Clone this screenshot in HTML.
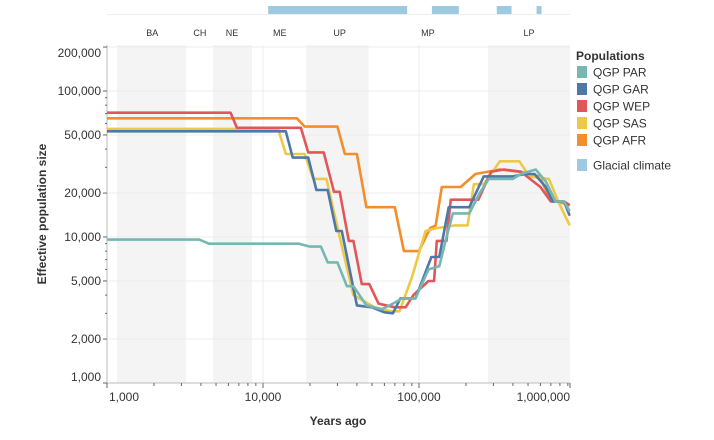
<!DOCTYPE html>
<html><head><meta charset="utf-8">
<style>
body{margin:0;background:#fff;}
svg{display:block;font-family:"Liberation Sans",sans-serif;}
</style></head>
<body>
<svg id="chart" width="714" height="440" viewBox="0 0 714 440" xmlns="http://www.w3.org/2000/svg">
<g id="bands"></g><g id="grid"></g><g id="glacial"></g><g id="periods"></g><g id="axes"></g><g id="lines"></g><g id="legend"></g>
</svg>
<script>
const periodNames=["BA","CH","NE","ME","UP","MP","LP"];
const periodLabelYears=[1950,3940,6330,12800,31000,114000,507000];
const greyBandStart=[1160,4780,18900,277000];
const greyBandEnd=[3210,8500,47500,1000000];
const glacialStart=[10800,121000,315000,567000];
const glacialEnd=[84000,180000,392000,610000];
const yTicks=[1000,2000,5000,10000,20000,50000,100000,200000];
const yTickLabels=["1,000","2,000","5,000","10,000","20,000","50,000","100,000","200,000"];
const xTicks=[1000,10000,100000,1000000];
const xTickLabels=["1,000","10,000","100,000","1,000,000"];
const seriesNames=["QGP PAR","QGP GAR","QGP WEP","QGP SAS","QGP AFR"];
const seriesColors=["#76b7b2","#4e79a7","#e15759","#edc948","#f28e2b"];
const parYears=[1000,3900,4500,17000,20000,23500,26000,30000,34500,38000,46000,58000,68000,78000,95000,115000,135000,150000,165000,210000,245000,280000,400000,450000,560000,650000,750000,850000,925000];
const parValues=[9600,9600,9000,9000,8600,8600,6700,6700,4600,4600,3400,3200,3500,3800,3800,6000,6300,10000,14500,14500,20000,25000,25000,27000,29000,24000,17500,17500,15000];
const garYears=[1000,14000,15500,19500,22000,26000,29500,32000,40000,50000,60000,68000,76000,95000,120000,135000,155000,210000,260000,400000,480000,550000,650000,720000,850000,925000];
const garValues=[53000,53000,35000,35000,21000,21000,11000,11000,3400,3300,3050,3000,3800,3800,7300,7300,16000,16000,26000,26000,27000,27000,22000,17500,17500,14000];
const wepYears=[1000,6200,6800,17500,19500,24500,28500,31000,35500,38000,43000,48000,55000,70000,82000,92000,115000,125000,130000,150000,160000,240000,290000,350000,450000,600000,700000,850000,925000];
const wepValues=[71000,71000,56000,56000,38000,38000,20400,20400,9400,9400,4760,4760,3500,3300,3300,4000,5000,5000,9400,9400,18000,18000,28000,29000,28000,22000,17500,17500,16500];
const sasYears=[1000,12500,14000,18500,21000,25500,31000,38000,52000,66000,75000,90000,110000,130000,170000,205000,225000,260000,330000,440000,510000,680000,780000,925000];
const sasValues=[55000,55000,37000,37000,25000,25000,10000,4000,3300,3100,3100,5300,11000,11500,12000,12000,23000,23000,33000,33000,26000,25000,17500,12000];
const afrYears=[1000,16500,18500,30000,33500,40000,46000,70000,80000,100000,118000,128000,140000,185000,230000,330000,440000,590000,700000,850000,925000];
const afrValues=[65000,65000,57000,57000,37000,37000,16000,16000,8000,8000,11500,12000,22000,22000,27000,29000,28000,26000,18000,17000,16500];

const NS="http://www.w3.org/2000/svg";
const L=107,R=570,T=45,B=383;
function xs(v){return 107+156*(Math.log10(v)-3);}
function ys(v){return 383-146*(Math.log10(v)-3);}
function mk(tag,attrs,parent,text){const e=document.createElementNS(NS,tag);for(const k in attrs)e.setAttribute(k,attrs[k]);if(text!==undefined)e.textContent=text;document.getElementById(parent).appendChild(e);return e;}

greyBandStart.forEach((s,i)=>{const x1=Math.max(L,xs(s)),x2=Math.min(R,xs(greyBandEnd[i]));
const e=mk('rect',{x:x1,y:T,width:x2-x1,height:B-T,fill:'#f4f4f5'},'bands');

});
yTicks.forEach(v=>{const e=mk('line',{x1:L,x2:R,y1:ys(v),y2:ys(v),stroke:'#ececec','stroke-width':1},'grid');

});
xTicks.forEach(v=>{if(xs(v)>L+1&&xs(v)<R){const e=mk('line',{x1:xs(v),x2:xs(v),y1:T,y2:B,stroke:'#ececec','stroke-width':1},'grid');

}});
mk('line',{x1:L,x2:R,y1:14.5,y2:14.5,stroke:'#eeeeee'},'glacial');
glacialStart.forEach((s,i)=>{const e=mk('rect',{x:xs(s),y:6,width:xs(glacialEnd[i])-xs(s),height:8,fill:'#9ecae1'},'glacial');

});
periodNames.forEach((n,i)=>{const e=mk('text',{x:xs(periodLabelYears[i]),y:36,'text-anchor':'middle','font-size':9,fill:'#333'},'periods',n);

});
mk('line',{x1:L,x2:L,y1:T,y2:B,stroke:'#bbb'},'axes');
mk('line',{x1:L,x2:R,y1:B,y2:B,stroke:'#bbb'},'axes');
for(let d=3;d<6;d++)for(let m=1;m<10;m++){const v=m*Math.pow(10,d);
mk('line',{x1:xs(v),x2:xs(v),y1:B,y2:B+(m==1?5:3),stroke:'#666'},'axes');}
mk('line',{x1:R,x2:R,y1:B,y2:B+5,stroke:'#666'},'axes');
for(let d=3;d<6;d++)for(let m=1;m<10;m++){const v=m*Math.pow(10,d);if(ys(v)<T)continue;
mk('line',{x1:L-(yTicks.includes(v)?4:2),x2:L,y1:ys(v),y2:ys(v),stroke:'#666'},'axes');}
yTicks.forEach((v,i)=>{let y=ys(v)+4;if(v==200000)y=57;if(v==1000)y=381;
const e=mk('text',{x:101,y:y,'text-anchor':'end','font-size':12,fill:'#333'},'axes',yTickLabels[i]);

});
xTicks.forEach((v,i)=>{let x=xs(v);let anchor='middle';if(i==0){x=L+2;anchor='start';}if(i==3){x=R;anchor='end';}
const e=mk('text',{x:x,y:401,'text-anchor':anchor,'font-size':12,fill:'#333'},'axes',xTickLabels[i]);

});
const xt=mk('text',{x:338,y:425,'text-anchor':'middle','font-size':12,'font-weight':'bold',fill:'#333'},'axes','Years ago');


const yt=mk('text',{x:0,y:0,transform:'translate(46,214) rotate(-90)','text-anchor':'middle','font-size':12,'font-weight':'bold',fill:'#333'},'axes','Effective population size');


const allYears=[parYears,garYears,wepYears,sasYears,afrYears];
const allValues=[parValues,garValues,wepValues,sasValues,afrValues];
[4,3,2,1,0].forEach(i=>{const d=allYears[i].map((yr,j)=>(j?'L':'M')+xs(yr).toFixed(1)+','+ys(allValues[i][j]).toFixed(1)).join(' ');
const e=mk('path',{d:d,fill:'none',stroke:seriesColors[i],'stroke-width':2.6,'stroke-linejoin':'round'},'lines');

});
const lt=mk('text',{x:576,y:60,'font-size':12,'font-weight':'bold',fill:'#333'},'legend','Populations');


seriesNames.forEach((n,i)=>{const y=66+i*17;
const r=mk('rect',{x:577,y:y,width:10,height:12,fill:seriesColors[i]},'legend');


const t=mk('text',{x:593,y:y+10.5,'font-size':12,fill:'#333'},'legend',n);

});
const gr=mk('rect',{x:577,y:159,width:10,height:12,fill:'#9ecae1'},'legend');


const gt=mk('text',{x:593,y:169.5,'font-size':12,fill:'#333'},'legend','Glacial climate');


</script>
</body></html>
